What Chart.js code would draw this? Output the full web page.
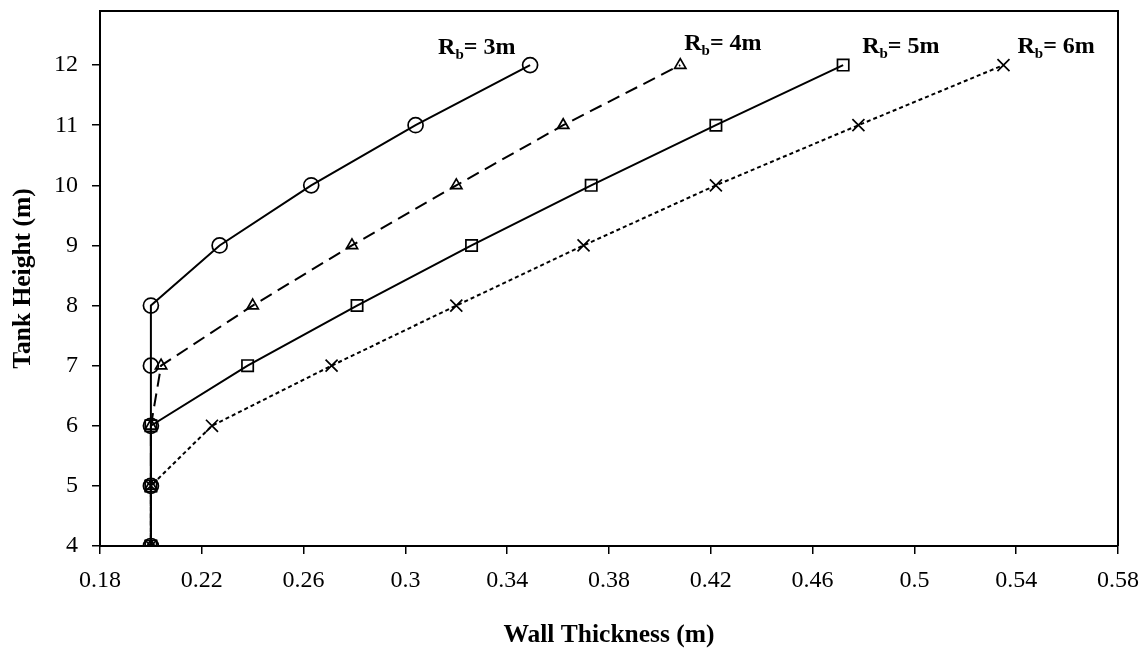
<!DOCTYPE html>
<html>
<head>
<meta charset="utf-8">
<script src="https://cdn.jsdelivr.net/npm/chart.js@4.4.1/dist/chart.umd.min.js"></script>
<style>
  html, body { margin: 0; padding: 0; background: #fff; }
  #wrap { width: 1144px; height: 652px; }
</style>
</head>
<body>
<div id="wrap"><canvas id="c" width="1144" height="652"></canvas></div>
<script>
// ---- Data ----
const xTickLabels = ['0.18', '0.22', '0.26', '0.3', '0.34', '0.38', '0.42', '0.46', '0.5', '0.54', '0.58'];
const yTickLabels = ['4', '5', '6', '7', '8', '9', '10', '11', '12'];
const tankHeights = [4, 5, 6, 7, 8, 9, 10, 11, 12];
const thicknessRb3 = [0.200, 0.200, 0.200, 0.200, 0.200, 0.227, 0.263, 0.304, 0.349];
const thicknessRb4 = [0.200, 0.200, 0.200, 0.204, 0.240, 0.279, 0.320, 0.362, 0.408];
const thicknessRb5 = [0.200, 0.200, 0.200, 0.238, 0.281, 0.326, 0.373, 0.422, 0.472];
const thicknessRb6 = [0.200, 0.200, 0.224, 0.271, 0.320, 0.370, 0.422, 0.478, 0.535];
const seriesRadius = ['3m', '4m', '5m', '6m'];
const xAxisTitle = 'Wall Thickness (m)';
const yAxisTitle = 'Tank Height (m)';

const xTickValues = xTickLabels.map(Number);
const yTickValues = yTickLabels.map(Number);

function toPoints(xs) { return xs.map((x, i) => ({ x: x, y: tankHeights[i] })); }

const seriesThickness = [thicknessRb3, thicknessRb4, thicknessRb5, thicknessRb6];
const styles = [
  { pointStyle: 'circle',   radius: 7.5, dash: [] },
  { pointStyle: 'triangle', radius: 6.5, dash: [13, 7] },
  { pointStyle: 'rect',     radius: 8,   dash: [] },
  { pointStyle: 'crossRot', radius: 8.5, dash: [4, 3] }
];
// label offsets relative to the last point of each series (pixels)
const labelOffsets = [[-92, -11], [4, -15], [19, -12], [14, -12]];

const datasets = seriesThickness.map((xs, i) => ({
  label: 'Rb= ' + seriesRadius[i],
  data: toPoints(xs),
  borderColor: '#000',
  backgroundColor: 'rgba(0,0,0,0)',
  borderWidth: 2,
  borderDash: styles[i].dash,
  pointStyle: styles[i].pointStyle,
  pointRadius: styles[i].radius,
  pointHoverRadius: styles[i].radius,
  pointBorderColor: '#000',
  pointBackgroundColor: 'rgba(0,0,0,0)',
  pointBorderWidth: 1.7,
  tension: 0,
  fill: false
}));

const FONT = '"Liberation Serif", "Times New Roman", serif';

function noPad(scale) {
  scale.paddingTop = 0; scale.paddingBottom = 0;
  scale.paddingLeft = 0; scale.paddingRight = 0;
}

const framePlugin = {
  id: 'frameAndLabels',
  afterDatasetsDraw(chart) {
    const ctx = chart.ctx;
    const a = chart.chartArea;
    ctx.save();
    ctx.strokeStyle = '#000';
    ctx.lineWidth = 2;
    ctx.setLineDash([]);
    ctx.beginPath();
    ctx.moveTo(a.left, a.top);
    ctx.lineTo(a.right, a.top);
    ctx.lineTo(a.right, a.bottom);
    ctx.stroke();

    // series labels R_b= Nm
    const xs = chart.scales.x, ys = chart.scales.y;
    ctx.fillStyle = '#000';
    ctx.textBaseline = 'alphabetic';
    ctx.textAlign = 'left';
    seriesThickness.forEach((arr, i) => {
      const px = xs.getPixelForValue(arr[arr.length - 1]) + labelOffsets[i][0];
      const py = ys.getPixelForValue(tankHeights[tankHeights.length - 1]) + labelOffsets[i][1];
      let x = px;
      ctx.font = 'bold 24px ' + FONT;
      ctx.fillText('R', x, py);
      x += ctx.measureText('R').width;
      ctx.font = 'bold 15px ' + FONT;
      ctx.fillText('b', x, py + 5);
      x += ctx.measureText('b').width;
      ctx.font = 'bold 24px ' + FONT;
      ctx.fillText('= ' + seriesRadius[i], x, py);
    });
    ctx.restore();
  }
};

new Chart(document.getElementById('c'), {
  type: 'line',
  data: { datasets: datasets },
  plugins: [framePlugin],
  options: {
    responsive: false,
    animation: false,
    devicePixelRatio: 1,
    layout: { padding: { top: 11, right: 26, left: 0, bottom: 0 } },
    plugins: { legend: { display: false }, tooltip: { enabled: false } },
    scales: {
      x: {
        type: 'linear',
        min: xTickValues[0],
        max: xTickValues[xTickValues.length - 1],
        afterBuildTicks(scale) { scale.ticks = xTickValues.map(v => ({ value: v })); },
        afterFit(scale) { scale.height = 106; noPad(scale); },
        ticks: {
          color: '#000',
          font: { family: FONT, size: 24 },
          padding: 12,
          maxRotation: 0,
          autoSkip: false,
          callback: (v) => xTickLabels[xTickValues.indexOf(v)]
        },
        grid: { drawOnChartArea: false, drawTicks: true, tickLength: 8, color: '#000', lineWidth: 1.5 },
        border: { display: true, color: '#000', width: 2 },
        title: {
          display: true, text: xAxisTitle, color: '#000',
          font: { family: FONT, size: 25.5, weight: 'bold' },
          padding: { top: 0, bottom: 1 }
        }
      },
      y: {
        type: 'linear',
        min: yTickValues[0],
        max: 12.9,
        afterBuildTicks(scale) { scale.ticks = yTickValues.map(v => ({ value: v })); },
        afterFit(scale) { scale.width = 100; noPad(scale); },
        ticks: {
          color: '#000',
          font: { family: FONT, size: 24 },
          padding: 14,
          autoSkip: false,
          callback: (v) => yTickLabels[yTickValues.indexOf(v)]
        },
        grid: { drawOnChartArea: false, drawTicks: true, tickLength: 8, color: '#000', lineWidth: 1.5 },
        border: { display: true, color: '#000', width: 2 },
        title: {
          display: true, text: yAxisTitle, color: '#000',
          font: { family: FONT, size: 25.5, weight: 'bold' },
          padding: { top: 8, bottom: 0 }
        }
      }
    }
  }
});
</script>
</body>
</html>
